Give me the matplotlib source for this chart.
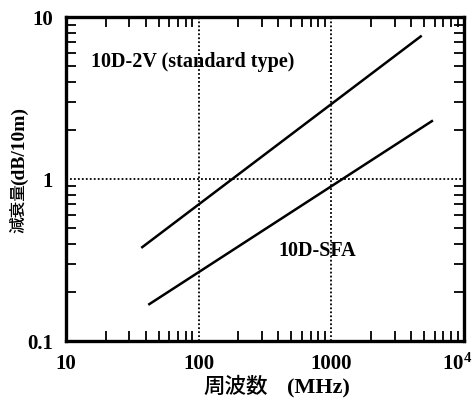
import matplotlib
matplotlib.use("Agg")
import matplotlib.pyplot as plt
import matplotlib.transforms as mtransforms
from matplotlib.ticker import FixedLocator, FixedFormatter, LogLocator, NullFormatter

# data
freq_2v = [37.7, 4720]
loss_2v = [0.38, 7.6]
freq_sfa = [42.6, 5730]
loss_sfa = [0.169, 2.28]

x_ticks = [10, 100, 1000, 10000]
x_labels = ["10", "100", "1000", "$\\mathregular{10^4}$"]
y_ticks = [0.1, 1, 10]
y_labels = ["0.1", "1", "10"]

plt.rcParams['font.family'] = ['Liberation Serif', 'Noto Sans CJK JP']
plt.rcParams['mathtext.fontset'] = 'custom'
plt.rcParams['mathtext.rm'] = 'Liberation Serif:bold'

fig = plt.figure(figsize=(4.73, 4.07), dpi=100)
ax = fig.add_axes([0.139, 0.162, 0.842, 0.796])

ax.plot(freq_2v, loss_2v, color='black', lw=1.8)
ax.plot(freq_sfa, loss_sfa, color='black', lw=1.8)

ax.set_xscale('log')
ax.set_yscale('log')
ax.set_xlim(10, 10000)
ax.set_ylim(0.1, 10)

ax.xaxis.set_major_locator(FixedLocator(x_ticks))
ax.xaxis.set_major_formatter(FixedFormatter(x_labels))
ax.yaxis.set_major_locator(FixedLocator(y_ticks))
ax.yaxis.set_major_formatter(FixedFormatter(y_labels))
ax.xaxis.set_minor_locator(LogLocator(base=10, subs=range(2, 10)))
ax.yaxis.set_minor_locator(LogLocator(base=10, subs=range(2, 10)))
ax.xaxis.set_minor_formatter(NullFormatter())
ax.yaxis.set_minor_formatter(NullFormatter())

ax.tick_params(which='both', direction='in', top=True, right=True, width=1.3)
ax.tick_params(which='major', length=0, labelsize=15, pad=9)
ax.tick_params(which='minor', length=7)
for lab in ax.get_xticklabels() + ax.get_yticklabels():
    lab.set_fontweight('bold')
for s in ax.spines.values():
    s.set_linewidth(2.4)

fig.canvas.draw()
last = ax.get_xticklabels()[-1]
last.set_transform(last.get_transform() +
                   mtransforms.ScaledTranslation(-7 / 100, 0, fig.dpi_scale_trans))

for v in [100, 1000]:
    ax.axvline(v, color='black', ls=(0, (1, 1.2)), lw=1.3)
ax.axhline(1, color='black', ls=(0, (1, 1.2)), lw=1.3)

ax.text(15.5, 5.27, "10D-2V (standard type)", fontsize=14.5, fontweight='bold',
        va='center', ha='left')
ax.text(397, 0.36, "10D-SFA", fontsize=14.5, fontweight='bold', va='center', ha='left')

# axis titles: CJK part and Latin part drawn separately
fig.text(236 / 473, 1 - 388 / 407, "周波数", fontsize=15.5, fontweight='medium',
         ha='center', va='center')
fig.text(318 / 473, 1 - 388 / 407, "(MHz)", fontsize=16, fontweight='bold',
         ha='center', va='center')
fig.text(19 / 473, 1 - 208 / 407, "減衰量", fontsize=12, fontweight='medium',
         rotation=90, ha='center', va='center')
fig.text(19 / 473, 1 - 146 / 407, "(dB/10m)", fontsize=14, fontweight='bold',
         rotation=90, ha='center', va='center')

fig.savefig("out.png", dpi=100)
